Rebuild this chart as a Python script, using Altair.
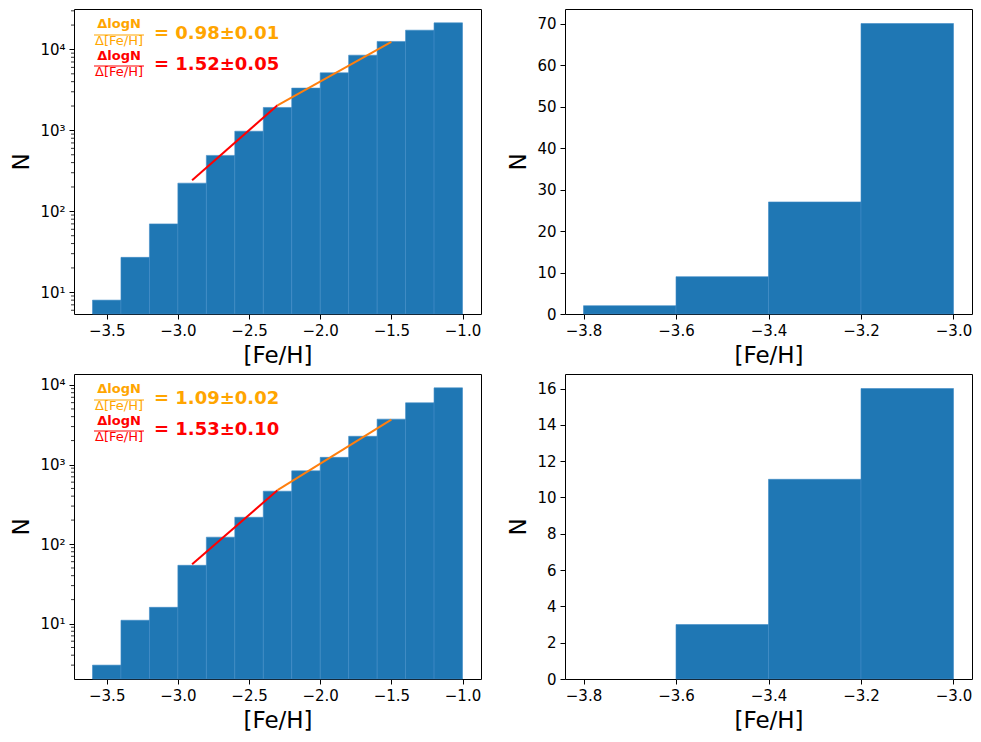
import altair as alt
import pandas as pd
import numpy as np

# ---------------- data ----------------
edges_wide = [-3.6, -3.4, -3.2, -3.0, -2.8, -2.6, -2.4, -2.2, -2.0, -1.8, -1.6, -1.4, -1.2, -1.0]
counts_top_wide = [8, 27, 70, 223, 491, 977, 1920, 3330, 5140, 8500, 12560, 17300, 21300]
counts_bot_wide = [3, 11, 16, 54, 122, 217, 462, 832, 1230, 2265, 3720, 5970, 9200]

edges_low = [-3.8, -3.6, -3.4, -3.2, -3.0]
counts_top_low = [2, 9, 27, 70]
counts_bot_low = [0, 3, 11, 16]

fit_red_x = [-2.9, -2.3]
fit_orange_x = [-2.3, -1.5]
fit_top_red_y = [243, 2040]
fit_top_orange_y = [2040, 12400]
fit_bot_red_y = [55.5, 475]
fit_bot_orange_y = [475, 3660]

top_orange_label = "= 0.98±0.01"
top_red_label = "= 1.52±0.05"
bot_orange_label = "= 1.09±0.02"
bot_red_label = "= 1.53±0.10"

xticks_wide = [-3.5, -3.0, -2.5, -2.0, -1.5, -1.0]
xticks_low = [-3.8, -3.6, -3.4, -3.2, -3.0]
yticks_log = [10, 100, 1000, 10000]
yticks_top_low = [0, 10, 20, 30, 40, 50, 60, 70]
yticks_bot_low = [0, 2, 4, 6, 8, 10, 12, 14, 16]

# ---------------- style ----------------
W, H = 407, 305
BAR = "#1f77b4"
FONT = "DejaVu Sans"


def margins(lo, hi, frac=0.05):
    r = hi - lo
    return [lo - frac * r, hi + frac * r]


def log_domain(counts):
    lo, hi = np.log10(min(counts)), np.log10(max(counts))
    a, b = margins(lo, hi)
    return [10 ** a, 10 ** b]


def minor_ticks(dom):
    vals = []
    for k in range(-1, 6):
        for m in range(2, 10):
            v = m * 10 ** k
            if dom[0] <= v <= dom[1]:
                vals.append(v)
    return vals


log_label_expr = ("datum.value == 10 ? '10¹' : datum.value == 100 ? '10²' : "
                  "datum.value == 1000 ? '10³' : datum.value == 10000 ? '10⁴' : ''")


def log_panel(counts, red_y, orange_y, orange_text, red_text):
    xdom = margins(edges_wide[0], edges_wide[-1])
    ydom = log_domain(counts)
    xs = alt.Scale(domain=xdom, nice=False, zero=False)
    ys = alt.Scale(type="log", domain=ydom, nice=False)
    df = pd.DataFrame({"lo": edges_wide[:-1], "hi": edges_wide[1:], "n": counts})
    bars = alt.Chart(df).mark_rect(color=BAR, stroke="#3f8cc6", strokeWidth=0.6).encode(
        x=alt.X("lo:Q", scale=xs, title="[Fe/H]",
                axis=alt.Axis(values=xticks_wide, format=".1f")),
        x2="hi:Q",
        y=alt.Y("n:Q", scale=ys, title="N",
                axis=alt.Axis(values=yticks_log, labelExpr=log_label_expr)),
        y2=alt.datum(ydom[0]),
    )
    red = alt.Chart(pd.DataFrame({"fe": fit_red_x, "n": red_y})).mark_line(
        color="#ff0000", strokeWidth=2).encode(
        x=alt.X("fe:Q", scale=xs), y=alt.Y("n:Q", scale=ys))
    orange = alt.Chart(pd.DataFrame({"fe": fit_orange_x, "n": orange_y})).mark_line(
        color="#ff7f0e", strokeWidth=2).encode(
        x=alt.X("fe:Q", scale=xs), y=alt.Y("n:Q", scale=ys))
    minor = alt.Chart(pd.DataFrame({"v": minor_ticks(ydom)})).mark_rule(
        color="black", strokeWidth=0.8).encode(
        y=alt.Y("v:Q", scale=ys), x=alt.value(0), x2=alt.value(-3))

    layers = [bars, red, orange, minor]

    def txt(s, x, y, size, weight, color, align):
        return alt.Chart(pd.DataFrame({"t": [s]})).mark_text(
            font=FONT, fontSize=size, fontWeight=weight, color=color,
            align=align, baseline="middle").encode(
            text="t:N", x=alt.value(x), y=alt.value(y))

    def bar_line(y, color):
        return alt.Chart(pd.DataFrame({"t": [0]})).mark_rule(
            color=color, strokeWidth=1.2).encode(
            x=alt.value(20), x2=alt.value(70), y=alt.value(y))

    for (col, off, big) in [("#ffa500", 0, orange_text), ("#ff0000", 31, red_text)]:
        layers += [
            txt("ΔlogN", 45, 15 + off + (1 if off else 0), 13, "bold", col, "center"),
            bar_line(26 + off, col),
            txt("Δ[Fe/H]", 45, 32 + off, 13, "normal", col, "center"),
            txt(big, 80, 25 + off, 18, "bold", col, "left"),
        ]
    return alt.layer(*layers).properties(width=W, height=H)


def lin_panel(counts, yticks):
    xdom = margins(edges_low[0], edges_low[-1])
    ydom = [0, max(counts) * 1.05]
    df = pd.DataFrame({"lo": edges_low[:-1], "hi": edges_low[1:], "n": counts})
    return alt.Chart(df).transform_filter("datum.n > 0").mark_rect(
        color=BAR, stroke="#3f8cc6", strokeWidth=0.6).encode(
        x=alt.X("lo:Q", scale=alt.Scale(domain=xdom, nice=False, zero=False), title="[Fe/H]",
                axis=alt.Axis(values=xticks_low, format=".1f")),
        x2="hi:Q",
        y=alt.Y("n:Q", scale=alt.Scale(domain=ydom, nice=False), title="N",
                axis=alt.Axis(values=yticks, format="d")),
        y2=alt.datum(0),
    ).properties(width=W, height=H)


tl = log_panel(counts_top_wide, fit_top_red_y, fit_top_orange_y, top_orange_label, top_red_label)
bl = log_panel(counts_bot_wide, fit_bot_red_y, fit_bot_orange_y, bot_orange_label, bot_red_label)
tr = lin_panel(counts_top_low, yticks_top_low)
br = lin_panel(counts_bot_low, yticks_bot_low)

chart = alt.vconcat(
    alt.hconcat(tl, tr, spacing=25),
    alt.hconcat(bl, br, spacing=25),
    spacing=5,
).properties(
    padding={"left": 2, "top": 0, "right": 0, "bottom": 0},
    background="white",
).configure_view(
    stroke="black", strokeWidth=1
).configure_axis(
    domain=False, grid=False, ticks=True, tickColor="black", tickSize=5, tickWidth=1,
    labelFont=FONT, labelFontSize=15, labelColor="black", labelPadding=4,
    titleFont=FONT, titleFontSize=23, titleFontWeight="normal", titleColor="black",
    titlePadding=6,
)

chart.save("out.html", embed_options={"renderer": "svg", "actions": False})
